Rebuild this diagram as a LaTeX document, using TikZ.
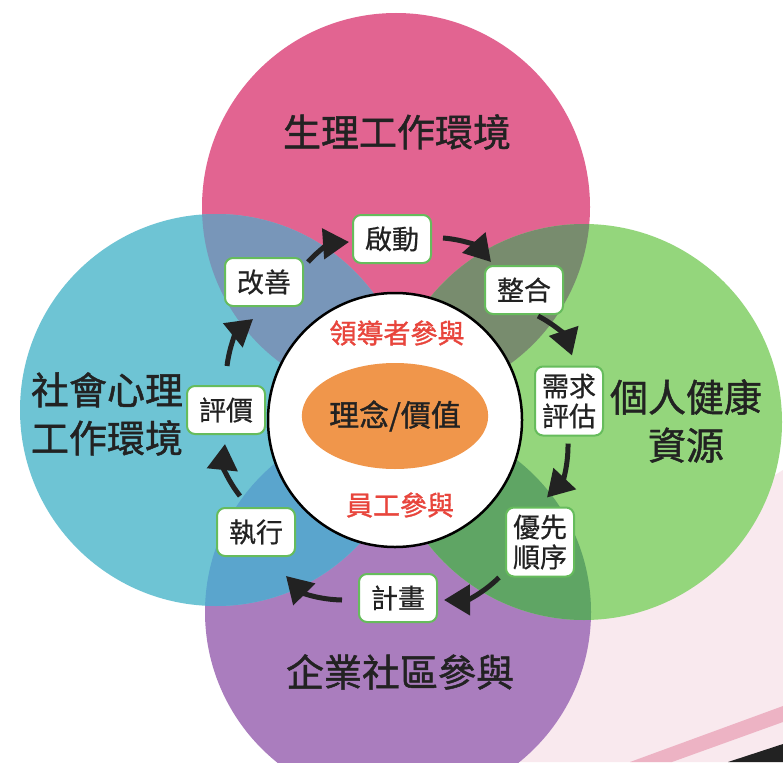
\documentclass[tikz,border=0pt]{standalone}
\usepackage{fontspec}
\newfontfamily\cjk[FakeBold=0.6]{Noto Sans CJK TC}
\newfontfamily\cjkb[FakeBold=1.2]{Noto Sans CJK TC}
\usetikzlibrary{arrows.meta,shapes.geometric}
\definecolor{pinkc}{HTML}{E26491}
\definecolor{cyanc}{HTML}{6EC4D4}
\definecolor{greenc}{HTML}{94D67C}
\definecolor{purc}{HTML}{AA7DBE}
\definecolor{pcov}{HTML}{7896B9}
\definecolor{pgov}{HTML}{788C6E}
\definecolor{cpov}{HTML}{5AA5CD}
\definecolor{gpov}{HTML}{5FA564}
\definecolor{boxgreen}{HTML}{66BC5C}
\definecolor{orangec}{HTML}{F0964B}
\definecolor{redc}{HTML}{E8453C}
\definecolor{inkc}{HTML}{222222}
\definecolor{washc}{HTML}{F8E4EA}
\definecolor{stripec}{HTML}{EDB3C4}
\begin{document}
\begin{tikzpicture}[x=1pt,y=-1pt,
  stepbox/.style={draw=boxgreen, line width=2pt, fill=white, rounded corners=8pt,
    inner sep=0pt, minimum width=78pt, minimum height=48pt, text=inkc,
    font=\cjk\fontsize{27}{30}\selectfont},
  tallbox/.style={stepbox, minimum width=68pt, minimum height=69pt, align=center},
  title/.style={text=inkc, align=center, font=\cjkb\fontsize{38}{48}\selectfont},
  redtxt/.style={text=redc, font=\cjkb\fontsize{27}{30}\selectfont},
  arr/.style={line width=5pt, draw=inkc, -{Triangle[length=26pt,width=30pt]}}]
\useasboundingbox (0,0) rectangle (783,762);
\clip (0,0) rectangle (783,762);
\fill[white] (0,0) rectangle (783,762);
% faint paper wash bottom right
\fill[washc, opacity=0.8] (590,590) -- (783,470) -- (783,762) -- (470,762) -- cycle;
\fill[stripec] (630,762) -- (783,706) -- (783,722) -- (672,762) -- cycle;
\fill[inkc] (728,762) -- (783,744) -- (783,762) -- cycle;
% four circles
\fill[pinkc] (396,207) circle (194pt);
\fill[purc] (398,612) circle (193pt);
\fill[cyanc] (216,410) circle (196pt);
\fill[greenc] (584,422) circle (198pt);
\begin{scope}
  \clip (396,207) circle (194pt);
  \fill[pcov] (216,410) circle (196pt);
  \fill[pgov] (584,422) circle (198pt);
\end{scope}
\begin{scope}
  \clip (398,612) circle (193pt);
  \fill[cpov] (216,410) circle (196pt);
  \fill[gpov] (584,422) circle (198pt);
\end{scope}
% centre
\node[circle, draw=black, line width=2.5pt, fill=white, minimum size=254pt, inner sep=0pt] (hub) at (395,420) {};
\node[ellipse, fill=orangec, minimum width=166pt, minimum height=106pt, inner sep=0pt,
  text=inkc, font=\cjkb\fontsize{30}{32}\selectfont] (core) at (395,416) {理念/價值};
\node[redtxt] (lead) at (397,333) {領導者參與};
\node[redtxt] (staff) at (400,505) {員工參與};
% titles
\node[title] (tp) at (397,132) {生理工作環境};
\node[title] (tl) at (107,414) {社會心理\\工作環境};
\node[title] (tr) at (686,421) {個人健康\\資源};
\node[title] (tb) at (400,672) {企業社區參與};
% step boxes
\node[stepbox] (qidong) at (392,239) {啟動};
\node[stepbox] (zhenghe) at (524,290) {整合};
\node[tallbox] (xuqiu) at (569,401) {需求\\評估};
\node[tallbox] (youxian) at (540,542) {優先\\順序};
\node[stepbox] (jihua) at (398,598) {計畫};
\node[stepbox] (zhixing) at (256,532) {執行};
\node[stepbox] (pingjia) at (226,410) {評價};
\node[stepbox] (gaishan) at (264,282) {改善};
% cycle arrows
\draw[arr] ([shift={(4,5)}]gaishan.north east) to[bend left=22] ([shift={(-3,3)}]qidong.west);
\draw[arr] ([shift={(11,-1)}]qidong.east) to[bend left=22] ([shift={(7,-3)}]zhenghe.north west);
\draw[arr] ([shift={(14,1)}]zhenghe.south) to[bend left=22] ([shift={(3,-10)}]xuqiu.north);
\draw[arr] ([shift={(-1,7)}]xuqiu.south) to[bend left=22] ([shift={(7,-9)}]youxian.north);
\draw[arr] ([shift={(-6,0)}]youxian.south west) to[bend left=22] ([shift={(6,2)}]jihua.east);
\draw[arr] ([shift={(-16,2)}]jihua.west) to[bend left=22] ([shift={(-10,19)}]zhixing.south east);
\draw[arr] ([shift={(-16,-11)}]zhixing.north) to[bend left=22] ([shift={(-1,9)}]pingjia.south);
\draw[arr] ([shift={(1,-19)}]pingjia.north) to[bend left=22] ([shift={(-11,12)}]gaishan.south);
\end{tikzpicture}
\end{document}
